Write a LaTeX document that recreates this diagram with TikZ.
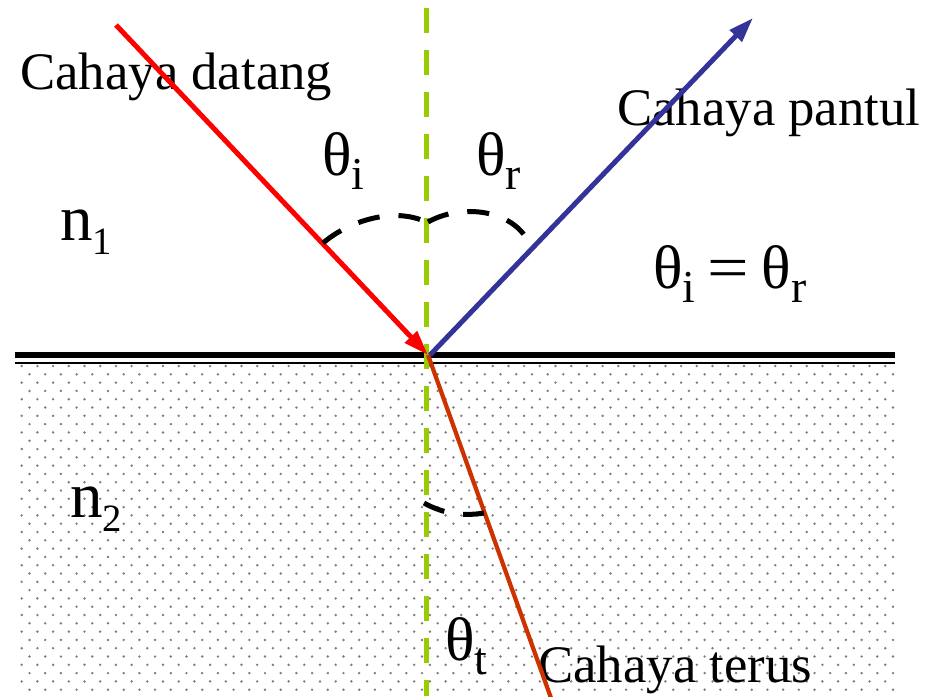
\documentclass[tikz,border=0pt]{standalone}
\usepackage{fontspec}
\usepackage{graphicx}
\setmainfont{Liberation Serif}
\usetikzlibrary{arrows.meta}
\definecolor{redray}{RGB}{255,0,0}
\definecolor{blueray}{RGB}{51,51,153}
\definecolor{orangeray}{RGB}{204,51,0}
\definecolor{normalgreen}{RGB}{153,204,0}
\definecolor{dotgray}{RGB}{125,125,125}
\newcommand{\sbs}[3]{\raisebox{#1}{\fontsize{#2}{#2}\selectfont #3}}
\begin{document}
\begin{tikzpicture}[x=0.02cm,y=-0.02cm,
  lbl/.style={inner sep=0pt, anchor=base west, font=\fontsize{30}{30}\selectfont},
  idx/.style={inner sep=0pt, anchor=base west, font=\fontsize{37}{37}\selectfont},
  ang/.style={inner sep=0pt, anchor=base west, font=\fontsize{35}{35}\selectfont},
  ray/.style={line width=0.1cm},
  tip/.style={-{Triangle[length=0.5cm,width=0.32cm]}},
  arcdash/.style={black, line width=0.1cm, dash pattern=on 0.44cm off 0.38cm},
  normalline/.style={normalgreen, line width=0.1cm, dash pattern=on 0.5cm off 0.34cm, dash phase=0.68cm}]
\useasboundingbox (0,0) rectangle (935,696);
% dotted medium
\foreach \r in {0,...,39} {
  \pgfmathsetmacro\yy{366+8.3*\r}
  \pgfmathsetmacro\xo{mod(\r,2)==0 ? 21.7 : 29.5}
  \foreach \c in {0,...,55} {
    \fill[dotgray] ({\xo+15.7*\c},\yy) circle (0.027cm);
  }
}
% key points
\coordinate (O) at (428,355);
\coordinate (Ob) at (430,355);
\coordinate (Rs) at (116,25);
\coordinate (Be) at (753,18);
\coordinate (Te) at (551,698);
\coordinate (Ntop) at (426,0);
\coordinate (Nbot) at (426,696);
\coordinate (IL) at (15,355);
\coordinate (IR) at (895,355);
\coordinate (JL) at (15,362.5);
\coordinate (JR) at (895,362.5);
% interface
\draw[line width=0.12cm] (IL) -- (IR);
\draw[line width=0.04cm] (JL) -- (JR);
% normal
\draw[normalline] (Ntop) -- (Nbot);
% labels
\node[lbl] (ld) at (20,90) {Cahaya datang};
\node[lbl] (lp) at (617,125) {Cahaya pantul};
\node[lbl] (lt) at (538,682) {Cahaya terus};
\node[idx] (n1) at (60,240) {n\sbs{-8.5pt}{22}{1}};
\node[idx] (n2) at (70,517) {n\sbs{-8.5pt}{22}{2}};
\node[ang] (ti) at (322,175) {θ\sbs{-8pt}{26}{i}};
\node[ang] (tr) at (476,175) {θ\sbs{-8pt}{26}{r}};
\node[ang] (tt) at (445,660) {θ\sbs{-8.5pt}{26}{t}};
\node[ang] (eq) at (653,288) {θ\sbs{-8pt}{26}{i}\hspace{7pt}\scalebox{1.2}[1]{=}\hspace{7pt}θ\sbs{-8pt}{26}{r}};
% rays
\draw[ray, redray, tip] (Rs) -- (O);
\draw[ray, blueray, tip] (Ob) -- (Be);
\draw[line width=0.085cm, orangeray] (O) -- (Te);
% angle arcs
\draw[arcdash] (323,243) .. controls (350,220) and (395,207) .. (426,222);
\draw[arcdash] (428,222) .. controls (458,205) and (505,208) .. (525,236);
\draw[arcdash] (424,503) .. controls (440,512) and (460,517) .. (484,513);
\end{tikzpicture}
\end{document}
